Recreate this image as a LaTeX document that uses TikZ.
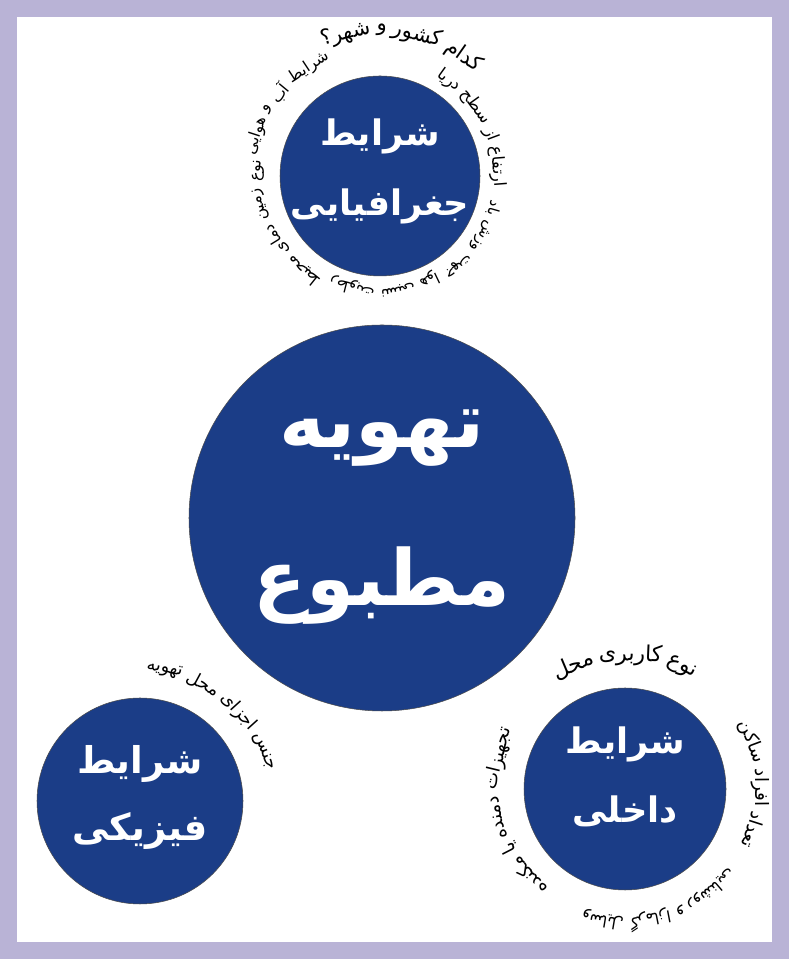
\documentclass[tikz,border=0pt]{standalone}
\usepackage{fontspec}
\TeXXeTstate=1
\newfontfamily\arabicfont[Script=Arabic]{DejaVu Sans}
\definecolor{topicblue}{RGB}{27,61,135}
\definecolor{framelilac}{RGB}{185,179,214}
\newdimen\ringangle
\newsavebox\ringbox
% words of a label set one by one round a circle, anticlockwise
\newcommand\ringtext[6]{%
  \global\ringangle=#3pt
  \foreach \w [count=\k] in {#6} {
    \pgfinterruptpicture\global\sbox\ringbox{\arabicfont#4\beginR\w\endR}\endpgfinterruptpicture
    \pgfmathsetmacro\ringstep{(\wd\ringbox+3.5pt)/(#2*28.4528)*57.2958}
    \pgfmathsetmacro\ringmid{\ringangle+\ringstep/2}
    \node[ringword, rotate=\ringmid-90] (#5\k) at ([shift={(\ringmid:#2)}]#1.center) {\arabicfont#4\beginR\w\endR};
    \global\advance\ringangle by \ringstep pt
  }%
}

\begin{document}
\begin{tikzpicture}[
    topic/.style={circle, fill=topicblue, draw=black!70, line width=0.3pt, inner sep=0pt},
    title/.style={text=white, align=center},
    ringword/.style={inner sep=0pt, text=black}]
  % frame
  \fill[framelilac] (0,0) rectangle (15.78,19.18);
  \fill[white] (0.34,0.34) rectangle (15.44,18.84);
  \useasboundingbox (0,0) rectangle (15.78,19.18);

  % circles
  \node[topic, minimum size=4cm] (geo) at (7.6,15.66) {};
  \node[topic, minimum size=7.72cm] (main) at (7.64,8.82) {};
  \node[topic, minimum size=4.12cm] (phys) at (2.8,3.16) {};
  \node[topic, minimum size=4.04cm] (inner) at (12.5,3.4) {};

  % titles
  \node[title, font=\arabicfont\bfseries\fontsize{20}{20}\selectfont] (geoA) at ([yshift=0.8cm]geo.center) {\beginR شرایط\endR};
  \node[title, font=\arabicfont\bfseries\fontsize{20}{20}\selectfont] (geoB) at ([yshift=-0.6cm]geo.center) {\beginR جغرافیایی\endR};
  \node[title, font=\arabicfont\bfseries\fontsize{44}{44}\selectfont] (mainA) at ([yshift=1.6cm]main.center) {\beginR تهویه\endR};
  \node[title, font=\arabicfont\bfseries\fontsize{44}{44}\selectfont] (mainB) at ([yshift=-1.35cm]main.center) {\beginR مطبوع\endR};
  \node[title, font=\arabicfont\bfseries\fontsize{21}{21}\selectfont] (physA) at ([yshift=0.75cm]phys.center) {\beginR شرایط\endR};
  \node[title, font=\arabicfont\bfseries\fontsize{21}{21}\selectfont] (physB) at ([yshift=-0.6cm]phys.center) {\beginR فیزیکی\endR};
  \node[title, font=\arabicfont\bfseries\fontsize{20}{20}\selectfont] (innerA) at ([yshift=0.9cm]inner.center) {\beginR شرایط\endR};
  \node[title, font=\arabicfont\bfseries\fontsize{20}{20}\selectfont] (innerB) at ([yshift=-0.45cm]inner.center) {\beginR داخلی\endR};

  % labels round the circles
  \ringtext{geo}{2.36}{-7}{\fontsize{9.5}{12}\selectfont}{geoR}{ارتفاع,از,سطح,دریا}
  \ringtext{geo}{2.92}{46}{\fontsize{12}{14}\selectfont}{geoT}{کدام,کشور,و,شهر؟}
  \ringtext{geo}{2.6}{112}{\fontsize{9}{11}\selectfont}{geoL}{شرایط,آب,و,هوایی}
  \ringtext{geo}{2.44}{171}{\fontsize{9}{11}\selectfont}{geoS}{نوع,زمین,دمای,محیط}
  \ringtext{geo}{2.3}{243}{\fontsize{8.5}{11}\selectfont}{geoB}{رطوبت,نسبی,هوا}
  \ringtext{geo}{2.36}{302}{\fontsize{8.5}{11}\selectfont}{geoE}{جهت,وزش,باد}
  \ringtext{phys}{2.66}{12}{\fontsize{10}{12}\selectfont}{physT}{جنس,اجزای,محل,تهویه}
  \ringtext{inner}{2.7}{-27}{\fontsize{10.5}{12}\selectfont}{innerR}{تعداد,افراد,ساکن}
  \ringtext{inner}{2.68}{57}{\fontsize{12.5}{14}\selectfont}{innerT}{نوع,کاربری,محل}
  \ringtext{inner}{2.6}{151}{\fontsize{10.5}{12}\selectfont}{innerL}{تجهیزات,دمنده,یا,مکنده}
  \ringtext{inner}{2.66}{250}{\fontsize{9}{12}\selectfont}{innerB}{وسایل,گرمازا,و,روشنایی}
\end{tikzpicture}
\end{document}
